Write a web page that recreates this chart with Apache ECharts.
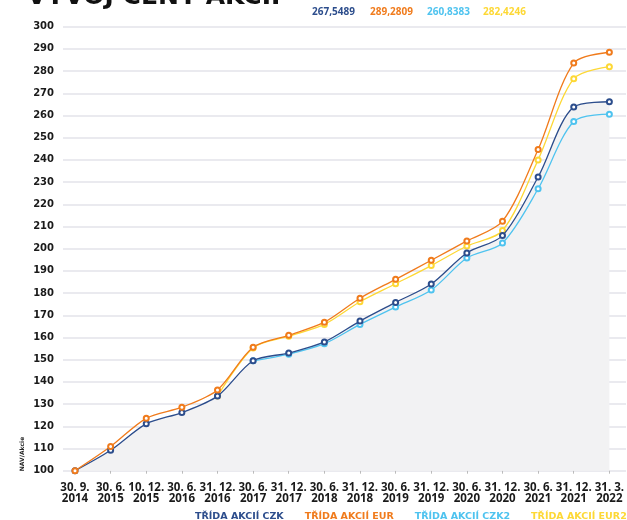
<!DOCTYPE html>
<html>
<head>
<meta charset="utf-8">
<script src="https://cdn.jsdelivr.net/npm/echarts@6/dist/echarts.min.js"></script>
<style>
html,body{margin:0;padding:0;background:#fff;}
#chart{width:627px;height:520px;}
</style>
</head>
<body>
<div id="chart"></div>
<script>
const categories = ['30. 9. 2014','30. 6. 2015','10. 12. 2015','30. 6. 2016','31. 12. 2016','30. 6. 2017','31. 12. 2017','30. 6. 2018','31. 12. 2018','30. 6. 2019','31. 12. 2019','30. 6. 2020','31. 12. 2020','30. 6. 2021','31. 12. 2021','31. 3. 2022'];
const seriesNames = ['TŘÍDA AKCIÍ CZK','TŘÍDA AKCIÍ EUR','TŘÍDA AKCIÍ CZK2','TŘÍDA AKCIÍ EUR2'];
const czk  = [100, 109.2, 121.1, 126.2, 133.6, 149.5, 153.0, 158.0, 167.4, 175.8, 184.1, 198.1, 205.9, 232.3, 263.8, 266.2];
const eur  = [100, 110.9, 123.6, 128.6, 136.4, 155.6, 161.0, 166.9, 177.7, 186.2, 194.8, 203.5, 212.4, 244.7, 283.6, 288.5];
const czk2 = [null, null, null, null, null, 149.5, 152.5, 157.2, 165.9, 173.7, 181.4, 195.8, 202.6, 227.0, 257.3, 260.6];
const eur2 = [null, null, null, null, 133.6, 155.3, 160.6, 165.9, 176.1, 184.2, 192.4, 201.2, 208.2, 240.0, 276.6, 282.0];
const headlineValues = ['267,5489','289,2809','260,8383','282,4246'];
const titleText = 'VÝVOJ CENY AKCIÍ';
const yAxisName = 'NAV/Akcie';

const colors = ['#2c4d8c','#f07b1c','#4ec3ef','#fdd835'];
const FONT = 'DejaVu Sans';

const chart = echarts.init(document.getElementById('chart'));

function lineSeries(name, data, color, z) {
  return {
    name: name, type: 'line', data: data, xAxisIndex: 0, yAxisIndex: 0,
    smooth: 0.3, symbol: 'emptyCircle', symbolSize: 5, showSymbol: true,
    connectNulls: false, z: z,
    lineStyle: {color: color, width: 1.3},
    itemStyle: {color: color, borderColor: color, borderWidth: 1.2},
    emphasis: {disabled: true}
  };
}

const headX = [312, 370, 427, 483];
const graphics = headlineValues.map((v, i) => ({
  type: 'text', left: headX[i], top: 7,
  style: {text: v, fill: colors[i], font: 'bold 10px "Open Sans"'}
}));
graphics.push({
  type: 'text', left: 27, top: -15,
  style: {text: titleText, fill: '#111', font: 'bold 25px "DejaVu Sans"'}
});
graphics.push({
  type: 'text', x: 22, y: 454, rotation: Math.PI / 2,
  style: {text: yAxisName, fill: '#222', font: 'bold 6px "DejaVu Sans"', align: 'center', verticalAlign: 'middle'}
});

const option = {
  animation: false,
  backgroundColor: '#fff',
  grid: [
    {left: 75, right: 13, top: 26.7, bottom: 49.3},
    {left: 63, right: 1, top: 26.7, bottom: 49.3}
  ],
  legend: {
    type: 'plain', orient: 'horizontal',
    left: 185, top: 507, width: 800, icon: 'none', itemWidth: 0, itemHeight: 8, itemGap: 16,
    selectedMode: false,
    data: seriesNames.map((n, i) => ({name: n, textStyle: {color: colors[i]}})),
    textStyle: {fontFamily: FONT, fontWeight: 'bold', fontSize: 9.5}
  },
  xAxis: [
    {
      type: 'category', gridIndex: 0, data: categories, boundaryGap: false,
      axisLine: {show: false},
      axisTick: {show: true, length: 3, lineStyle: {color: '#bbb'}},
      splitLine: {show: false},
      axisLabel: {
        interval: 0, margin: 11, color: '#1a1a1a', fontFamily: 'Open Sans', fontWeight: 'bold', fontSize: 11.5, lineHeight: 11.5,
        formatter: v => { const k = v.lastIndexOf(' '); return v.slice(0, k) + '\n' + v.slice(k + 1); }
      }
    },
    {type: 'value', gridIndex: 1, min: 0, max: 1, show: false}
  ],
  yAxis: [
    {type: 'value', gridIndex: 0, min: 100, max: 300, interval: 10, show: false},
    {
      type: 'value', gridIndex: 1, min: 100, max: 300, interval: 10,
      axisLine: {show: false}, axisTick: {show: false},
      splitLine: {show: true, lineStyle: {color: '#e3e3ea', width: 1.5}},
      axisLabel: {margin: 9, color: '#1a1a1a', fontFamily: FONT, fontWeight: 'bold', fontSize: 10}
    }
  ],
  graphic: graphics,
  series: [
    {
      name: 'area', type: 'line', data: czk, xAxisIndex: 0, yAxisIndex: 0, smooth: 0.3,
      showSymbol: false, symbol: 'none', lineStyle: {opacity: 0}, z: 1, silent: true,
      areaStyle: {color: '#f2f2f3', opacity: 1}
    },
    lineSeries(seriesNames[2], czk2, colors[2], 2),
    lineSeries(seriesNames[3], eur2, colors[3], 2),
    lineSeries(seriesNames[0], czk, colors[0], 3),
    lineSeries(seriesNames[1], eur, colors[1], 3)
  ]
};
chart.setOption(option);
</script>
</body>
</html>
